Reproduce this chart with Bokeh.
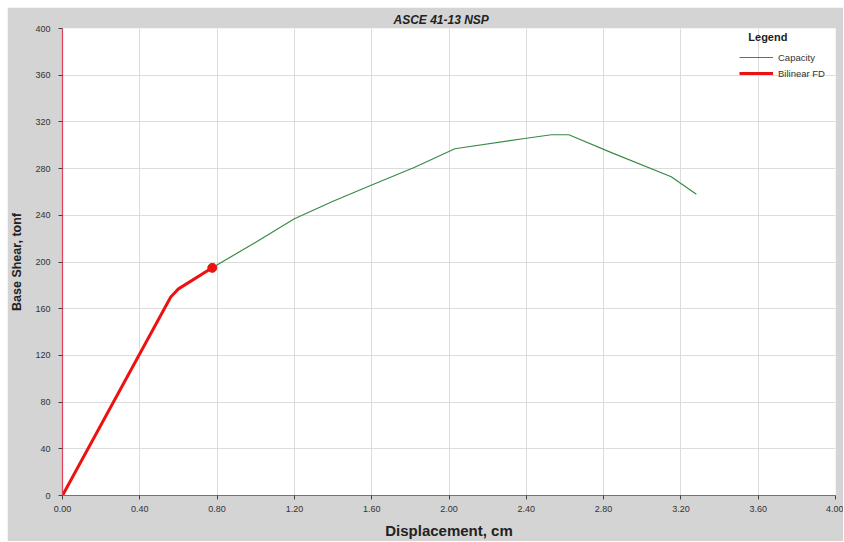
from bokeh.plotting import figure
from bokeh.models import Range1d, FixedTicker, NumeralTickFormatter, Legend, LegendItem, Label, Spacer
from bokeh.layouts import column, row
from bokeh.embed import file_html
from bokeh.resources import INLINE

# Capacity curve (displacement cm, base shear tonf)
cap_x = [0.0, 0.56, 0.60, 0.775, 1.00, 1.20, 1.40, 1.60, 1.82, 2.03, 2.40, 2.53, 2.62, 2.85, 3.15, 3.28]
cap_y = [0.0, 170.0, 177.0, 195.0, 217.0, 237.0, 252.0, 266.0, 281.0, 297.0, 306.0, 309.0, 309.0, 293.0, 273.0, 258.0]

# Bilinear FD
bil_x = [0.0, 0.56, 0.60, 0.775]
bil_y = [0.0, 170.0, 177.0, 195.0]

# Performance point
pp_x = [0.775]
pp_y = [195.0]

x_ticks = [0.0, 0.4, 0.8, 1.2, 1.6, 2.0, 2.4, 2.8, 3.2, 3.6, 4.0]
y_ticks = [0, 40, 80, 120, 160, 200, 240, 280, 320, 360, 400]

BG = "#d4d4d4"
FONT = "Liberation Sans Narrow, Liberation Sans, Arial"

p = figure(width=836, height=534, output_backend="svg", toolbar_location=None,
           x_range=Range1d(0, 4), y_range=Range1d(0, 400),
           min_border_left=54, min_border_right=8, min_border_top=21, min_border_bottom=40,
           background_fill_color="white", border_fill_color=BG, outline_line_color=None)

p.title.text = "ASCE 41-13 NSP"
p.title.align = "left"
p.title.offset = 331
p.title.text_font = "Liberation Sans, Arial"
p.title.text_font_style = "bold italic"
p.title.text_font_size = "12px"
p.title.text_color = "#222222"
p.title.vertical_align = "top"
p.title.standoff = 0
p.title.padding = 0

for ax in (p.xaxis[0], p.yaxis[0]):
    ax.axis_line_color = "#e0405a"
    ax.axis_line_width = 1.2
    ax.major_tick_line_color = "#444444"
    ax.major_tick_in = 0
    ax.major_tick_out = 4
    ax.minor_tick_line_color = None
    ax.major_label_text_font = FONT
    ax.major_label_text_font_size = "9px"
    ax.major_label_text_color = "#333333"
    ax.axis_label_text_font = "Liberation Sans, Arial"
    ax.axis_label_text_font_style = "bold"
    ax.axis_label_text_color = "#222222"

p.xaxis.ticker = FixedTicker(ticks=x_ticks)
p.yaxis.ticker = FixedTicker(ticks=y_ticks)
p.xaxis.formatter = NumeralTickFormatter(format="0.00")
p.yaxis.formatter = NumeralTickFormatter(format="0")
p.xaxis.axis_label = "Displacement, cm"
p.yaxis.axis_label = "Base Shear, tonf"
p.xaxis.axis_label_text_font_size = "15px"
p.yaxis.axis_label_text_font_size = "12.5px"
p.xaxis.major_label_standoff = 6
p.yaxis.major_label_standoff = 8
p.xaxis.axis_label_standoff = 7
p.yaxis.axis_label_standoff = 8

p.xgrid.ticker = FixedTicker(ticks=x_ticks)
p.ygrid.ticker = FixedTicker(ticks=y_ticks)
p.grid.grid_line_color = "#dcdcdc"
p.grid.grid_line_width = 1

cap = p.line(cap_x, cap_y, line_color="#3a8a45", line_width=1.2)
bil = p.line(bil_x, bil_y, line_color="#ee1111", line_width=3)
p.scatter(pp_x, pp_y, size=9, fill_color="#ee1111", line_color="#ee1111")

legend = Legend(items=[LegendItem(label="Capacity", renderers=[cap]),
                       LegendItem(label="Bilinear FD", renderers=[bil])],
                background_fill_alpha=0, border_line_color=None,
                label_text_font=FONT, label_text_font_size="9.5px", label_text_color="#333333",
                glyph_width=34, glyph_height=10, spacing=4, padding=4, margin=0,
                label_standoff=5, label_height=12)
p.add_layout(legend, "center")
legend.location = (677, 416)

p.add_layout(Label(x=3.65, y=393, text="Legend", text_font="Liberation Sans, Arial",
                   text_font_style="bold", text_font_size="11px", text_color="#222222",
                   text_align="center", text_baseline="middle"))

layout = column(Spacer(height=7), row(Spacer(width=7), p))

open("out.html", "w").write(file_html(layout, INLINE))
